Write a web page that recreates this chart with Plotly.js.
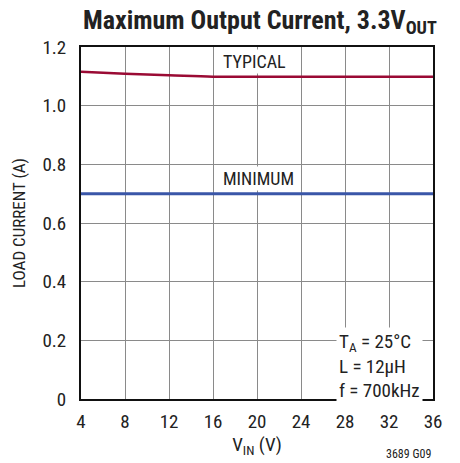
<!DOCTYPE html>
<html>
<head>
<meta charset="utf-8">
<script src="https://cdn.plot.ly/plotly-3.0.1.min.js"></script>
<style>body{margin:0;padding:0;background:#fff}#chart{width:460px;height:463px}</style>
</head>
<body>
<div id="chart"></div>
<script>
// Data
var vin = [4, 8, 12, 16, 20, 24, 28, 32, 36];
var typicalCurrent = [1.116, 1.109, 1.104, 1.099, 1.099, 1.099, 1.099, 1.099, 1.099];
var minimumCurrent = [0.70, 0.70, 0.70, 0.70, 0.70, 0.70, 0.70, 0.70, 0.70];
var xTicks = [4, 8, 12, 16, 20, 24, 28, 32, 36];
var yTicks = [0, 0.2, 0.4, 0.6, 0.8, 1.0, 1.2];
var yTickLabels = ['0', '0.2', '0.4', '0.6', '0.8', '1.0', '1.2'];

var FONT = '"Liberation Sans Narrow", "Arial Narrow", "Roboto Condensed", sans-serif';

var traces = [
  {x: vin, y: typicalCurrent, mode: 'lines', line: {color: '#9a0a34', width: 2.5, shape: 'spline'}, hoverinfo: 'none'},
  {x: vin, y: minimumCurrent, mode: 'lines', line: {color: '#3a56a8', width: 3}, hoverinfo: 'none'}
];

var layout = {
  width: 460, height: 463,
  margin: {l: 81, r: 27, t: 47, b: 64},
  paper_bgcolor: '#fff', plot_bgcolor: '#fff',
  showlegend: false,
  font: {family: FONT, color: '#222', size: 18},
  title: {text: '<b>Maximum Output Current, 3.3V<sub>OUT</sub></b>', x: 0.565, xanchor: 'center', y: 0.958, yanchor: 'middle', font: {family: FONT, size: 26, color: '#222'}},
  xaxis: {
    range: [4, 36], tickvals: xTicks, ticktext: xTicks.map(String),
    showgrid: true, gridcolor: '#8a8a8a', gridwidth: 1,
    showline: true, linecolor: '#111', linewidth: 2, mirror: true,
    ticks: '', zeroline: false, ticklabelstandoff: 4,
    tickfont: {family: FONT, size: 19, color: '#222'},
    title: {text: 'V<sub>IN</sub> (V)', standoff: 4, font: {family: FONT, size: 19, color: '#222'}}
  },
  yaxis: {
    range: [0, 1.2], tickvals: yTicks, ticktext: yTickLabels,
    showgrid: true, gridcolor: '#8a8a8a', gridwidth: 1,
    showline: true, linecolor: '#111', linewidth: 2, mirror: true,
    ticks: '', zeroline: false, ticklabelstandoff: 9,
    tickfont: {family: FONT, size: 19, color: '#222'},
    title: {text: 'LOAD CURRENT (A)', standoff: 12, font: {family: FONT, size: 17, color: '#222'}}
  },
  annotations: [
    {xref: 'x', yref: 'y', x: 19.8, y: 1.15, text: 'TYPICAL', showarrow: false, bgcolor: '#fff', font: {family: FONT, size: 18, color: '#222'}, borderpad: 1},
    {xref: 'x', yref: 'y', x: 20.1, y: 0.753, text: 'MINIMUM', showarrow: false, bgcolor: '#fff', font: {family: FONT, size: 18, color: '#222'}, borderpad: 1},
    {xref: 'x', yref: 'y', x: 27.2, y: 0.2, xanchor: 'left', yanchor: 'top', yshift: 13, text: 'T<sub>A</sub> = 25°C<br>L = 12μH<br>f = 700kHz', align: 'left', showarrow: false, bgcolor: '#fff', font: {family: FONT, size: 19, color: '#222'}, borderpad: 2},
    {xref: 'paper', yref: 'paper', x: 1.0, y: -0.13, xanchor: 'right', yanchor: 'top', text: '3689 G09', showarrow: false, font: {family: FONT, size: 12, color: '#222'}}
  ]
};

Plotly.newPlot('chart', traces, layout, {staticPlot: true, displayModeBar: false});
</script>
</body>
</html>
